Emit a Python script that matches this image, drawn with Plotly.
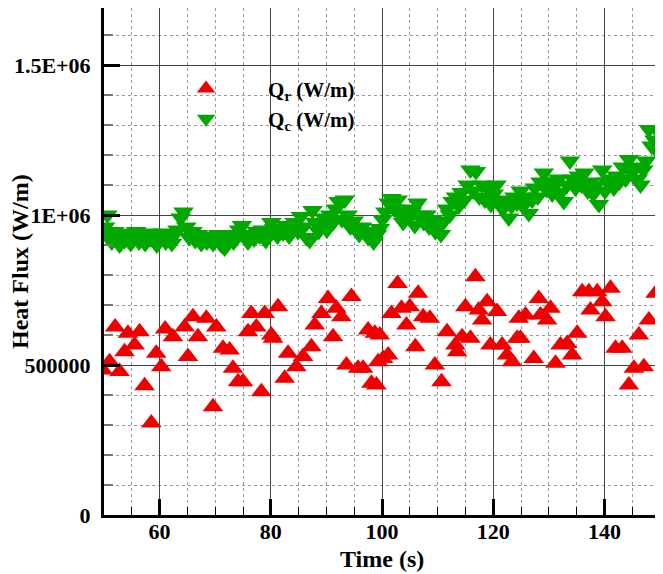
import plotly.graph_objects as go

# ---- data ----
qr_time = [49.8, 51.0, 52.0, 52.8, 53.7, 54.3, 55.5, 56.4, 57.3, 58.5, 59.4, 60.3, 61.0, 62.4,
           64.5, 65.1, 66.0, 66.9, 68.4, 69.6, 70.2, 71.4, 72.6, 73.2, 74.1, 75.0, 75.9, 76.5,
           77.4, 78.3, 78.9, 80.1, 80.4, 81.3, 82.5, 83.1, 84.6, 85.8, 87.3, 87.9, 89.1, 90.3,
           91.2, 91.8, 92.7, 93.6, 94.5, 95.7, 96.6, 97.5, 98.1, 98.7, 99.0, 99.3, 99.6, 100.2,
           101.1, 101.7, 102.8, 103.5, 104.4, 105.0, 106.0, 106.5, 107.4, 108.6, 109.5, 110.7,
           111.7, 113.2, 113.5, 114.4, 115.0, 115.9, 116.8, 117.4, 118.0, 118.9, 119.5, 120.7,
           121.6, 122.5, 123.4, 124.3, 124.6, 124.9, 125.8, 127.3, 128.2, 128.5, 129.7, 130.3,
           131.2, 132.1, 133.3, 134.2, 135.1, 136.0, 137.2, 137.5, 138.7, 139.6, 140.2, 141.1,
           142.0, 143.2, 144.4, 145.3, 146.2, 147.1, 148.0, 149.2, 150.0]
qr_value = [483000, 511000, 627000, 478000, 544000, 606000, 567000, 611000, 431000, 307000,
            539000, 494000, 620000, 594000, 627000, 528000, 661000, 594000, 656000, 361000,
            627000, 556000, 550000, 489000, 444000, 444000, 611000, 672000, 627000, 411000,
            672000, 600000, 589000, 694000, 456000, 539000, 494000, 528000, 561000, 633000,
            672000, 722000, 594000, 689000, 661000, 500000, 728000, 489000, 489000, 617000,
            439000, 606000, 433000, 511000, 600000, 522000, 533000, 672000, 772000, 689000,
            633000, 694000, 561000, 739000, 661000, 656000, 500000, 444000, 611000, 567000,
            544000, 594000, 694000, 589000, 794000, 683000, 650000, 711000, 567000, 678000,
            567000, 533000, 511000, 589000, 656000, 589000, 667000, 522000, 722000, 667000,
            650000, 689000, 506000, 567000, 572000, 533000, 606000, 744000, 744000, 683000,
            744000, 711000, 661000, 756000, 556000, 556000, 433000, 489000, 600000, 494000,
            650000, 739000, 745000]

qc_time = [50.2, 50.6, 51.0, 51.4, 51.8, 52.3, 52.8, 53.2, 53.7, 54.2, 54.8, 55.3, 55.8, 56.3,
           56.9, 57.4, 57.9, 58.4, 59.0, 59.5, 60.0, 60.6, 61.1, 61.6, 62.2, 62.7, 63.2, 63.8,
           64.3, 64.8, 65.3, 65.9, 66.4, 66.9, 67.5, 68.0, 68.5, 69.0, 69.6, 70.1, 70.6, 71.1,
           71.7, 72.2, 72.7, 73.3, 73.8, 74.3, 74.8, 75.4, 75.9, 76.4, 77.0, 77.5, 78.0, 78.5,
           79.1, 79.6, 80.1, 80.6, 81.2, 81.7, 82.2, 82.8, 83.3, 83.8, 84.3, 84.9, 85.4, 85.9,
           86.4, 87.0, 87.5, 88.0, 88.6, 89.1, 89.6, 90.1, 90.7, 91.2, 91.7, 92.2, 92.8, 93.3,
           93.8, 94.3, 94.9, 95.4, 95.9, 96.4, 97.0, 97.5, 98.0, 98.5, 99.1, 99.6, 100.1, 100.6,
           101.2, 101.7, 102.2, 102.8, 103.3, 103.8, 104.3, 104.9, 105.4, 105.9, 106.4, 107.0,
           107.5, 108.0, 108.5, 109.1, 109.6, 110.1, 110.6, 111.2, 111.7, 112.2, 112.7, 113.3,
           113.8, 114.3, 114.8, 115.4, 115.9, 116.4, 116.9, 117.5, 118.0, 118.5, 119.0, 119.6,
           120.1, 120.6, 121.1, 121.7, 122.2, 122.8, 123.3, 123.8, 124.3, 124.9, 125.4, 125.9,
           126.4, 127.0, 127.5, 128.0, 128.5, 129.1, 129.6, 130.1, 130.6, 131.2, 131.7, 132.2,
           132.7, 133.3, 133.8, 134.3, 134.8, 135.4, 135.9, 136.4, 137.0, 137.5, 138.0, 138.5,
           139.0, 139.6, 140.1, 140.6, 141.2, 141.7, 142.2, 142.7, 143.3, 143.8, 144.4, 144.9,
           145.4, 146.0, 146.5, 147.0, 147.5, 148.0, 148.5, 149.0, 149.6, 150.0]
qc_value = [960000, 1000000, 930000, 910000, 945000, 925000, 900000, 940000, 915000, 935000,
            905000, 925000, 945000, 910000, 930000, 905000, 940000, 920000, 935000, 900000,
            915000, 940000, 910000, 930000, 905000, 935000, 950000, 990000, 1010000, 960000,
            925000, 945000, 915000, 935000, 905000, 925000, 910000, 930000, 905000, 920000,
            935000, 900000, 890000, 915000, 935000, 910000, 925000, 950000, 965000, 930000,
            910000, 935000, 920000, 945000, 930000, 950000, 915000, 940000, 975000, 955000,
            930000, 950000, 940000, 965000, 930000, 955000, 975000, 945000, 995000, 960000,
            925000, 915000, 1015000, 975000, 945000, 965000, 990000, 950000, 1000000, 975000,
            1020000, 1045000, 985000, 1050000, 1000000, 960000, 980000, 955000, 935000, 960000,
            945000, 925000, 940000, 910000, 935000, 955000, 985000, 1010000, 1040000, 1055000,
            1020000, 1050000, 1000000, 975000, 1020000, 990000, 1010000, 965000, 1040000, 1000000,
            975000, 1000000, 960000, 985000, 945000, 960000, 935000, 980000, 1020000, 1000000,
            1045000, 1060000, 1030000, 1075000, 1050000, 1100000, 1150000, 1080000, 1145000, 1060000,
            1100000, 1050000, 1090000, 1035000, 1070000, 1100000, 1040000, 1020000, 1050000, 990000,
            1030000, 1060000, 1040000, 1080000, 1030000, 1060000, 1005000, 1050000, 1090000, 1060000,
            1110000, 1140000, 1085000, 1110000, 1070000, 1100000, 1120000, 1075000, 1045000, 1100000,
            1180000, 1120000, 1090000, 1130000, 1100000, 1140000, 1080000, 1110000, 1070000, 1100000,
            1035000, 1150000, 1080000, 1110000, 1120000, 1090000, 1130000, 1110000, 1160000, 1120000,
            1185000, 1140000, 1160000, 1120000, 1100000, 1150000, 1180000, 1285000, 1230000, 1250000,
            1210000, 1270000]

y_tickvals = [0, 500000, 1000000, 1500000]
y_ticktext = ["0", "500000", "1E+06", "1.5E+06"]
x_tickvals = [60, 80, 100, 120, 140]
x_ticktext = ["60", "80", "100", "120", "140"]

FONT = "Liberation Serif"

fig = go.Figure()
fig.add_trace(go.Scatter(
    x=qr_time, y=qr_value, mode="markers", name="<b>Q<sub>r</sub> (W/m)</b>",
    legendgroup="a",
    marker=dict(symbol="triangle-up", size=18, color="#EE0000", line=dict(width=0)),
))
fig.add_trace(go.Scatter(
    x=qc_time, y=qc_value, mode="markers", name="<b>Q<sub>c</sub> (W/m)</b>",
    legendgroup="b",
    marker=dict(symbol="triangle-down", size=18, color="#00A800", line=dict(width=0)),
))

axis_common = dict(
    showline=True, linecolor="black", linewidth=3, mirror=True,
    ticks="inside", tickcolor="black", tickwidth=3, ticklen=16,
    showgrid=True, gridcolor="#444444", gridwidth=1,
    zeroline=False, automargin=False,
    tickfont=dict(family=FONT, size=22, color="black", weight="bold"),
)

fig.update_xaxes(
    range=[50, 150], tickvals=x_tickvals, ticktext=x_ticktext,
    minor=dict(dtick=5, tick0=0, ticks="inside", ticklen=8, tickcolor="black", tickwidth=1,
               showgrid=True, gridcolor="#9a9a9a", gridwidth=1, griddash="dot"),
    ticklabelstandoff=-5,
    **axis_common,
)
fig.update_yaxes(
    range=[0, 1690000], tickvals=y_tickvals, ticktext=y_ticktext,
    minor=dict(dtick=100000, tick0=0, ticks="inside", ticklen=9, tickcolor="#777777", tickwidth=2,
               showgrid=True, gridcolor="#9a9a9a", gridwidth=1, griddash="dot"),
    ticklabelstandoff=6,
    **axis_common,
)

fig.add_shape(type="rect", xref="paper", yref="paper", x0=0.052, x1=0.489, y0=0.734, y1=0.917,
              fillcolor="white", line=dict(width=0), layer="between")

fig.add_annotation(text="<b>Heat Flux (W/m)</b>", xref="paper", yref="paper",
                   x=-0.152, y=0.5, textangle=-90, showarrow=False,
                   xanchor="center", yanchor="middle",
                   font=dict(family=FONT, size=24, color="black"))
fig.add_annotation(text="<b>Time (s)</b>", xref="paper", yref="paper",
                   x=0.5, y=-0.087, showarrow=False,
                   xanchor="center", yanchor="middle",
                   font=dict(family=FONT, size=24, color="black"))

# the page body adds an 8 px margin, so the figure is 8 px smaller on each side
fig.update_layout(
    width=655, height=566,
    margin=dict(l=96, r=3, t=0, b=59),
    paper_bgcolor="white", plot_bgcolor="white",
    showlegend=True,
    legend=dict(x=0.072, y=0.881, xanchor="left", yanchor="top",
                bgcolor="rgba(0,0,0,0)", itemwidth=114, tracegroupgap=3,
                traceorder="normal",
                font=dict(family=FONT, size=21, color="black")),
)

fig.write_html("out.html")
